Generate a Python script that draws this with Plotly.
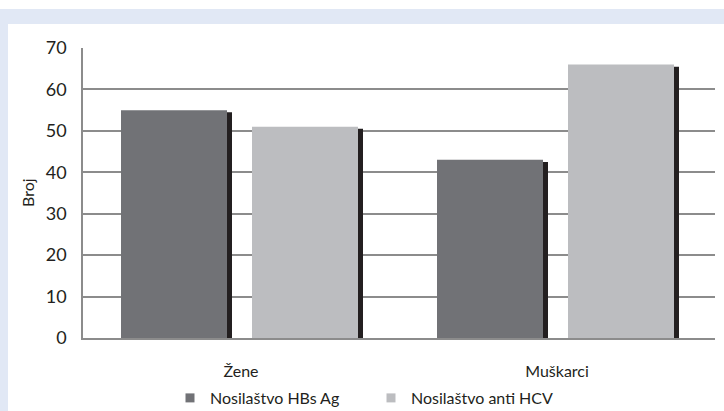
import plotly.graph_objects as go

categories = ["Žene", "Muškarci"]
series_names = ["Nosilaštvo HBs Ag", "Nosilaštvo anti HCV"]
hbs_values = [55, 43]
hcv_values = [51, 66]
y_ticks = [0, 10, 20, 30, 40, 50, 60, 70]
y_title = "Broj"

W, H = 724, 411
L, R, T, B = 83, 9, 48, 73
plot_w = W - L - R
cat_px = plot_w / len(categories)

dark = "#717276"
light = "#bcbdc0"
shadow = "#231f20"
grid = "#8c8c8c"
txt = "#231f20"
blue = "#e1e8f5"
FONT = "Lato"

bar_w = 106 / cat_px
off_hbs = -120 / cat_px
off_hcv = 11 / cat_px
sh_dx = 5 / cat_px
sh_drop = 0.5

fig = go.Figure()
for vals, off in [(hbs_values, off_hbs), (hcv_values, off_hcv)]:
    fig.add_trace(go.Bar(x=categories, y=[v - sh_drop for v in vals], width=bar_w,
                         offset=off + sh_dx, marker=dict(color=shadow, line=dict(width=0)),
                         showlegend=False, hoverinfo="skip"))
fig.add_trace(go.Bar(x=categories, y=hbs_values, width=bar_w, offset=off_hbs,
                     marker=dict(color=dark, line=dict(width=0)), showlegend=False,
                     name=series_names[0]))
fig.add_trace(go.Bar(x=categories, y=hcv_values, width=bar_w, offset=off_hcv,
                     marker=dict(color=light, line=dict(width=0)), showlegend=False,
                     name=series_names[1]))

# legend proxies
fig.add_trace(go.Scatter(x=[None], y=[None], mode="markers", name=series_names[0],
                         marker=dict(symbol="square", size=9, color=dark), legend="legend"))
fig.add_trace(go.Scatter(x=[None], y=[None], mode="markers", name=series_names[1],
                         marker=dict(symbol="square", size=9, color=light), legend="legend2"))

def px_x(p):
    return (p - L) / plot_w

def px_y(p):
    return (H - B - p) / (H - T - B)

shapes = [
    dict(type="rect", xref="paper", yref="paper", x0=px_x(0), x1=px_x(W),
         y0=px_y(24), y1=px_y(9), fillcolor=blue, line=dict(width=0), layer="below"),
    dict(type="rect", xref="paper", yref="paper", x0=px_x(0), x1=px_x(8),
         y0=px_y(H + 2), y1=px_y(9), fillcolor=blue, line=dict(width=0), layer="below"),
]

fig.update_layout(
    width=W, height=H,
    margin=dict(l=L, r=R, t=T, b=B, autoexpand=False),
    paper_bgcolor="white", plot_bgcolor="white",
    barmode="overlay",
    font=dict(family=FONT, size=16, color=txt),
    shapes=shapes,
    xaxis=dict(type="category", range=[-0.5, 1.5], showgrid=False, ticks="",
               showline=True, linecolor=grid, linewidth=1.5,
               tickfont=dict(family=FONT, size=16, color=txt), ticklabelstandoff=18,
               fixedrange=True),
    yaxis=dict(range=[0, 70], tickvals=y_ticks, showgrid=True, gridcolor=grid, gridwidth=1.5,
               showline=True, linecolor=grid, linewidth=1.5, ticks="", zeroline=False,
               tickfont=dict(family=FONT, size=18, color=txt), ticklabelstandoff=11,
               fixedrange=True),
    annotations=[dict(text=y_title, xref="paper", yref="paper", x=px_x(27), y=0.5,
                      textangle=-90, showarrow=False, font=dict(family=FONT, size=16, color=txt),
                      xanchor="center", yanchor="middle")],
    legend=dict(orientation="h", xref="container", yref="container", x=170 / W, y=1 - 398 / H,
                xanchor="left", yanchor="middle", bgcolor="rgba(0,0,0,0)",
                font=dict(family=FONT, size=16, color=txt)),
    legend2=dict(orientation="h", xref="container", yref="container", x=371 / W, y=1 - 398 / H,
                 xanchor="left", yanchor="middle", bgcolor="rgba(0,0,0,0)",
                 font=dict(family=FONT, size=16, color=txt)),
)

fig.write_html("out.html", config={"displayModeBar": False},
               post_script="document.body.style.margin='0';document.body.style.overflow='hidden';")
